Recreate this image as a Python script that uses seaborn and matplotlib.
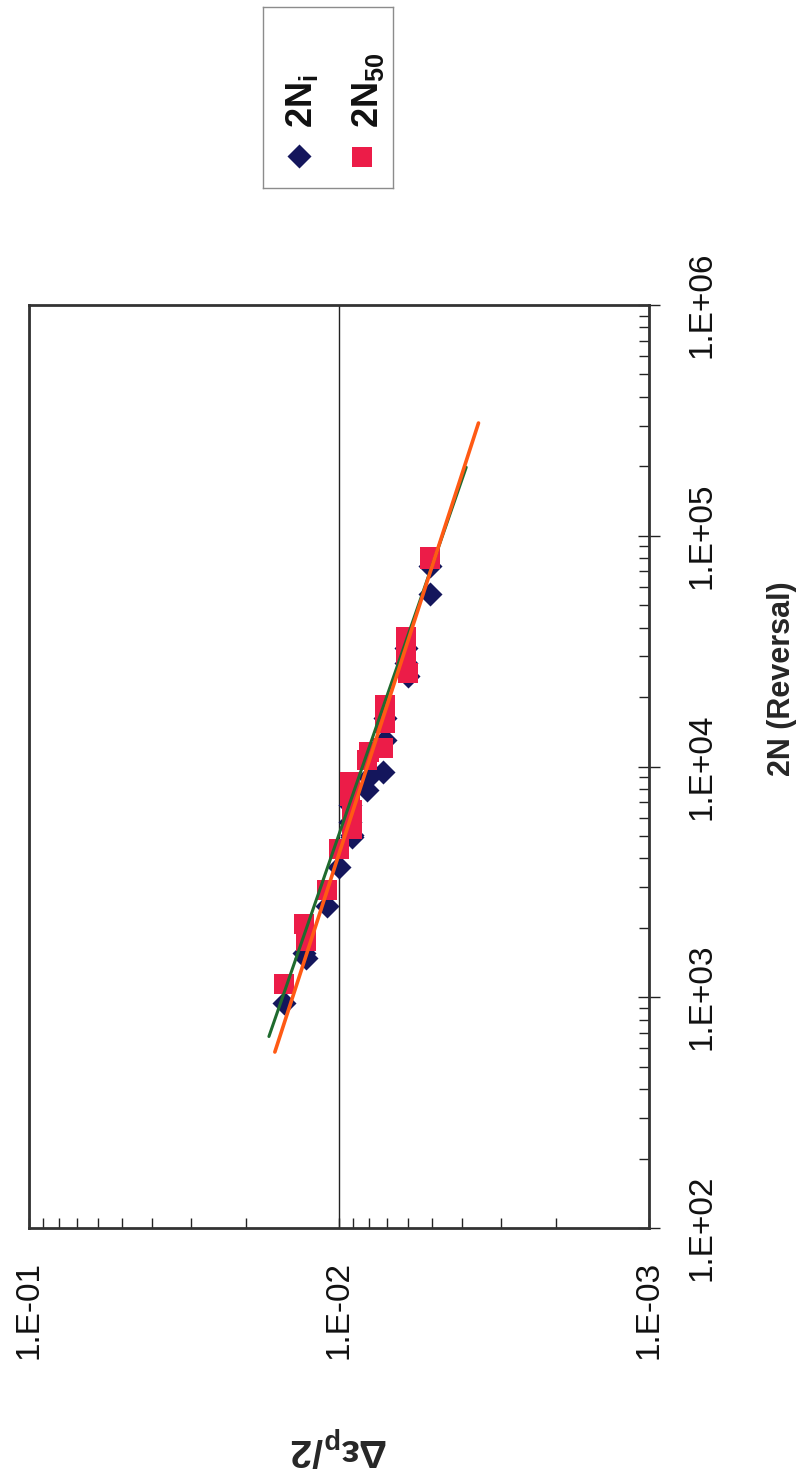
import numpy as np
import pandas as pd
import matplotlib
matplotlib.use("Agg")
import matplotlib.pyplot as plt
from matplotlib.ticker import FixedLocator, LogLocator, FuncFormatter, NullFormatter
import seaborn as sns

# Plastic strain amplitude of each specimen
strain_amp = [0.0150, 0.0130, 0.0128, 0.0109, 0.0100, 0.0091, 0.0092, 0.0092, 0.0091,
              0.0080, 0.0081, 0.0072, 0.0071, 0.0071, 0.0061, 0.0061, 0.0060, 0.0051, 0.0051]
# Reversals to crack initiation (2N_i)
reversals_i = [944, 1555, 1479, 2486, 3668, 4948, 6811, 5746, 5048,
               9006, 7911, 9467, 16230, 13020, 32620, 28090, 24680, 55930, 73950]
# Reversals to 50 % load drop (2N_50)
reversals_50 = [1141, 2077, 1753, 2916, 4389, 5359, 8568, 7450, 6479,
                11560, 10670, 12030, 18470, 15440, 36410, 30420, 25430, 79320, 80900]

# Coffin-Manson power-law trend lines: coefficient, exponent and reversal span
fit_green = {"coef": 0.0904, "expo": -0.258, "n_from": 676, "n_to": 1.98e5}
fit_orange = {"coef": 0.0746, "expo": -0.241, "n_from": 579, "n_to": 3.08e5}

strain_ticks = [1e-1, 1e-2, 1e-3]
reversal_ticks = [1e2, 1e3, 1e4, 1e5, 1e6]

series_labels = [r"$\mathbf{2N_i}$", r"$\mathbf{2N_{50}}$"]
strain_title = r"$\mathbf{Δε_p/2}$"
reversal_title = "2N (Reversal)"

NAVY = "#14165c"
RED = "#ec1c48"
GREEN = "#1f6b2e"
ORANGE = "#ff5a14"

sns.set_style("white")
plt.rcParams["font.family"] = ["Liberation Sans", "DejaVu Sans"]
plt.rcParams["mathtext.fontset"] = "custom"
plt.rcParams["mathtext.rm"] = "Liberation Sans"
plt.rcParams["mathtext.it"] = "Liberation Sans:italic"
plt.rcParams["mathtext.bf"] = "Liberation Sans:bold"

fig = plt.figure(figsize=(8.07, 14.74), dpi=100)
ax = fig.add_axes([29 / 807, 246 / 1474, 620 / 807, 923 / 1474])

df = pd.DataFrame({"strain": strain_amp, "n_i": reversals_i, "n_50": reversals_50})

# Strain runs along the horizontal axis, reversals up the vertical axis
sns.scatterplot(data=df, x="strain", y="n_i", marker="D", s=150, color=NAVY,
                linewidth=0, ax=ax, zorder=3, legend=False)
sns.scatterplot(data=df, x="strain", y="n_50", marker="s", s=220, color=RED,
                linewidth=0, ax=ax, zorder=4, legend=False)


def trend(fit):
    n = np.geomspace(fit["n_from"], fit["n_to"], 60)
    return pd.DataFrame({"strain": fit["coef"] * n ** fit["expo"], "n": n})


for fit, col, lw in [(fit_green, GREEN, 2.2), (fit_orange, ORANGE, 2.6)]:
    sns.lineplot(data=trend(fit), x="strain", y="n", color=col, linewidth=lw,
                 estimator=None, sort=False, ax=ax, zorder=5)

ax.set_xscale("log")
ax.set_yscale("log")
ax.set_xlim(strain_ticks[0], strain_ticks[-1])
ax.set_ylim(reversal_ticks[0], reversal_ticks[-1])

fmt = FuncFormatter(lambda v, _: f"1.E{int(round(np.log10(v))):+03d}")
ax.xaxis.set_major_locator(FixedLocator(strain_ticks))
ax.xaxis.set_minor_locator(LogLocator(base=10, subs=np.arange(2, 10), numticks=30))
ax.xaxis.set_major_formatter(fmt)
ax.xaxis.set_minor_formatter(NullFormatter())
ax.yaxis.set_major_locator(FixedLocator(reversal_ticks))
ax.yaxis.set_minor_locator(LogLocator(base=10, subs=np.arange(2, 10), numticks=30))
ax.yaxis.set_major_formatter(fmt)
ax.yaxis.set_minor_formatter(NullFormatter())
ax.yaxis.tick_right()

ax.tick_params(axis="x", which="both", direction="in", length=7, width=1,
               color="#222222", bottom=True, top=False)
ax.tick_params(axis="x", which="major", labelsize=24, pad=24, labelrotation=90,
               labelcolor="#111111")
ax.tick_params(axis="y", which="major", direction="inout", length=16, width=1,
               color="#222222", left=False, right=True, labelsize=24, pad=19,
               labelrotation=90, labelcolor="#111111")
ax.tick_params(axis="y", which="minor", direction="in", length=7, width=1,
               color="#222222", left=False, right=True)
for lbl in ax.get_yticklabels():
    lbl.set_verticalalignment("center")

ax.grid(False)
ax.xaxis.grid(True, which="major", color="#222222", linewidth=1)
for sp in ax.spines.values():
    sp.set_visible(True)
    sp.set_color("#333333")
    sp.set_linewidth(2)

ax.set_xlabel(strain_title, fontsize=28, rotation=180, ha="center", va="center")
ax.xaxis.set_label_coords(0.5, -0.237)
ax.set_ylabel(reversal_title, fontsize=22, fontweight="bold", rotation=90,
              ha="center", va="center")
ax.yaxis.set_label_position("right")
ax.yaxis.set_label_coords(1.19, 0.595)

# Legend box with rotated entries
lax = fig.add_axes([263 / 807, 1 - 188 / 1474, 130 / 807, 181 / 1474])
lax.set_xlim(0, 1)
lax.set_ylim(0, 1)
lax.set_xticks([])
lax.set_yticks([])
for sp in lax.spines.values():
    sp.set_visible(True)
    sp.set_color("#8c8c8c")
    sp.set_linewidth(1)
sns.scatterplot(x=[0.277], y=[0.177], marker="D", s=150, color=NAVY, linewidth=0,
                ax=lax, legend=False)
sns.scatterplot(x=[0.76], y=[0.17], marker="s", s=220, color=RED, linewidth=0,
                ax=lax, legend=False)
lax.set_xlabel("")
lax.set_ylabel("")
lax.text(0.30, 0.33, series_labels[0], rotation=90, ha="center", va="bottom",
         fontsize=26, color="#111111")
lax.text(0.81, 0.33, series_labels[1], rotation=90, ha="center", va="bottom",
         fontsize=26, color="#111111")

fig.savefig("out.png", dpi=100, facecolor="white")
